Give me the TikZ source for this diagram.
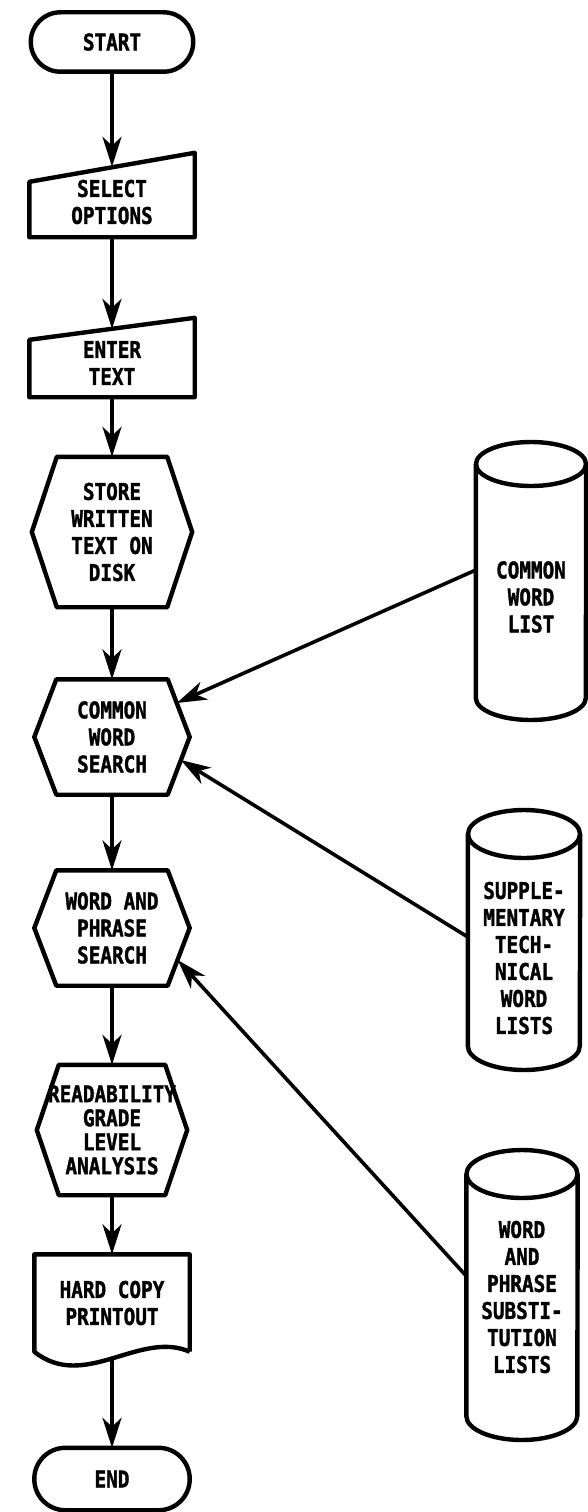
\documentclass[tikz,border=0pt]{standalone}
\usepackage{fontspec}
\setmainfont{DejaVu Sans Mono}[FakeStretch=0.84, BoldFeatures={FakeBold=1.5}]
\usetikzlibrary{arrows.meta,calc}
\tikzset{
  lbl/.style={font=\bfseries\fontsize{23}{27}\selectfont, align=center, inner sep=0pt, shape=rectangle},
  outline/.style={line width=4.4pt, line join=round},
  arr/.style={line width=3.6pt, -{Stealth[length=30pt,width=19pt,inset=9pt]}},
}
\newcommand\drawhex[2]{%
  \draw[outline] (#1.west) -- ([xshift=#2]#1.north west) -- ([xshift=-#2]#1.north east)
    -- (#1.east) -- ([xshift=-#2]#1.south east) -- ([xshift=#2]#1.south west) -- cycle;}
% node, up to top, down to bottom, y radius, x radius
\newcommand\drawcyl[5]{%
  \draw[outline] ($(#1.west)+(0,-#2+#4)$) -- ($(#1.west)+(0,#3-#4)$)
    arc[start angle=180, end angle=360, x radius=#5pt, y radius=#4pt]
    -- ($(#1.east)+(0,-#2+#4)$);
  \draw[outline] ($(#1)+(0,-#2+#4)$) ellipse[x radius=#5pt, y radius=#4pt];}
\begin{document}
\begin{tikzpicture}[x=1pt,y=-1pt]
\useasboundingbox (0,0) rectangle (587,1512);

% main column
\node[lbl, minimum width=162pt, minimum height=59pt] (start) at (112,42) {START};
\node[lbl, minimum width=165pt, minimum height=70pt] (select) at (112,202) {SELECT\\OPTIONS};
\node[lbl, minimum width=165pt, minimum height=68pt] (enter) at (112,363) {ENTER\\TEXT};
\node[lbl, minimum width=160pt, minimum height=150pt] (store) at (112,532) {STORE\\WRITTEN\\TEXT ON\\DISK};
\node[lbl, minimum width=155pt, minimum height=115pt] (cws) at (112,737) {COMMON\\WORD\\SEARCH};
\node[lbl, minimum width=155pt, minimum height=115pt] (wps) at (112,928) {WORD AND\\PHRASE\\SEARCH};
\node[lbl, minimum width=150pt, minimum height=130pt, font=\bfseries\fontsize{23}{24}\selectfont] (rgl) at (112,1130) {READABILITY\\GRADE\\LEVEL\\ANALYSIS};
\node[lbl, minimum width=155pt, minimum height=97pt] (hcp) at (112,1303) {HARD COPY\\PRINTOUT};
\node[lbl, minimum width=155pt, minimum height=62pt] (end) at (112,1479) {END};

% right column (cylinders)
\node[lbl, minimum width=110pt] (cwl) at (531,597) {COMMON\\WORD\\LIST};
\node[lbl, minimum width=112pt] (stwl) at (524,958) {SUPPLE-\\MENTARY\\TECH-\\NICAL\\WORD\\LISTS};
\node[lbl, minimum width=111pt] (wpsl) at (522,1297) {WORD\\AND\\PHRASE\\SUBSTI-\\TUTION\\LISTS};

% outlines
\draw[outline, rounded corners=29.5pt] (start.north west) rectangle (start.south east);
\draw[outline] ([yshift=-15pt]select.north west) -- ([yshift=14pt]select.north east)
  -- (select.south east) -- (select.south west) -- cycle;
\draw[outline] ([yshift=-11pt]enter.north west) -- ([yshift=11pt]enter.north east)
  -- (enter.south east) -- (enter.south west) -- cycle;
\drawhex{store}{25pt}
\drawhex{cws}{22pt}
\drawhex{wps}{22pt}
\drawhex{rgl}{22pt}
\draw[outline] (hcp.south east) -- (hcp.north east) -- (hcp.north west) -- (hcp.south west)
  .. controls +(50,40) and +(-50,-22) .. coordinate[pos=0.5] (hcpb) (hcp.south east);
\draw[outline, rounded corners=31pt] (end.north west) rectangle (end.south east);
\drawcyl{cwl}{155}{123}{22}{55}
\drawcyl{stwl}{148}{112}{24}{56}
\drawcyl{wpsl}{147}{143}{24}{55.5}

% connectors
\draw[arr] (start.south) -- (select.north);
\draw[arr] (select.south) -- (enter.north);
\draw[arr] (enter.south) -- (store.north);
\draw[arr] (store.south) -- (cws.north);
\draw[arr] (cws.south) -- (wps.north);
\draw[arr] (wps.south) -- (rgl.north);
\draw[arr] (rgl.south) -- (hcp.north);
\draw[arr] (hcpb) -- (end.north);
\draw[arr] ([yshift=27pt]cwl.west) -- ([xshift=-13pt,yshift=34pt]cws.east);
\draw[arr] ([yshift=21pt]stwl.west) -- ([xshift=-9pt,yshift=-23pt]cws.east);
\draw[arr] ([yshift=21pt]wpsl.west) -- ([xshift=-12pt,yshift=-32pt]wps.east);
\end{tikzpicture}
\end{document}
